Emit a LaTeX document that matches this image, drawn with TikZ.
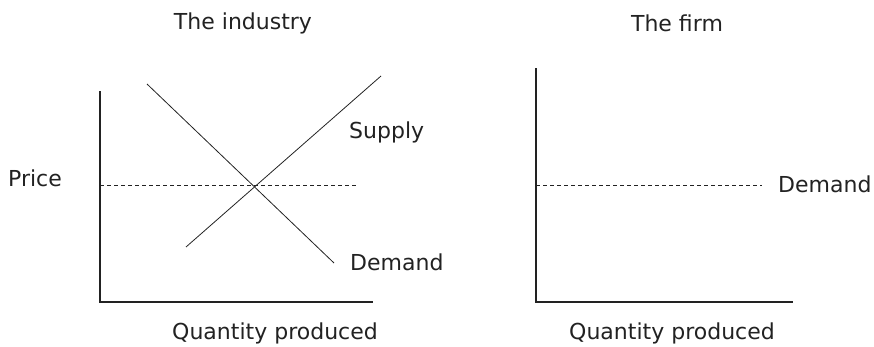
\documentclass[tikz,border=0pt]{standalone}
\usepackage{fontspec}
\usepackage{xcolor}
\usepackage{tikz}
\setmainfont{DejaVu Sans}
\definecolor{inkgrey}{HTML}{222222}

\begin{document}
\begin{tikzpicture}[x=1pt, y=1pt,
    axis/.style={inkgrey, line width=2.5pt, line cap=rect},
    curve/.style={inkgrey, line width=0.8pt},
    priceline/.style={inkgrey, line width=0.6pt, dash pattern=on 4pt off 3pt},
    lbl/.style={inner sep=0pt, text=inkgrey, font=\fontsize{22}{26}\selectfont}]
    \useasboundingbox (0,0) rectangle (874,346);

    % industry panel
    \coordinate (io) at (100,44);
    \coordinate (itop) at (100,254);
    \coordinate (iend) at (372,44);
    \draw[axis] (itop) -- (io) -- (iend);
    \coordinate (d1) at (147,262);
    \coordinate (d2) at (334,83);
    \coordinate (s1) at (186,99);
    \coordinate (s2) at (381,270);
    \draw[curve] (d1) -- (d2);
    \draw[curve] (s1) -- (s2);
    \coordinate (ip) at (100,161);
    \coordinate (ipend) at (357,161);
    \draw[priceline] (ip) -- (ipend);

    \node[lbl] (ititle) at (243,323) {The industry};
    \node[lbl, anchor=west] (price) at (8,168) {Price};
    \node[lbl, anchor=west] (supply) at (349,214) {Supply};
    \node[lbl, anchor=west] (idemand) at (350,84) {Demand};
    \node[lbl] (iqty) at (275,13) {Quantity produced};

    % firm panel
    \coordinate (fo) at (536,44);
    \coordinate (ftop) at (536,277);
    \coordinate (fend) at (792,44);
    \draw[axis] (ftop) -- (fo) -- (fend);
    \coordinate (fp) at (536,161);
    \coordinate (fpend) at (762,161);
    \draw[priceline] (fp) -- (fpend);

    \node[lbl] (ftitle) at (677,323) {The firm};
    \node[lbl, anchor=west] (fdemand) at (778,162) {Demand};
    \node[lbl] (fqty) at (672,13) {Quantity produced};
\end{tikzpicture}
\end{document}
